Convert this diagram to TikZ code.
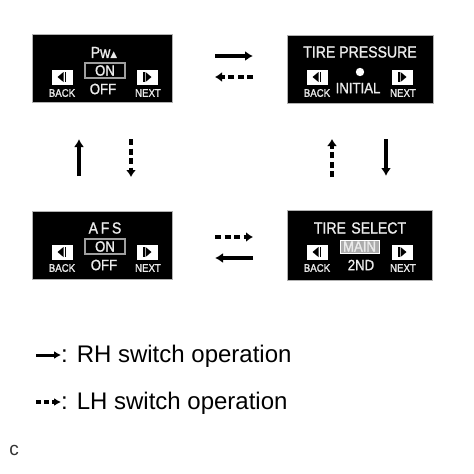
\documentclass[tikz,border=0pt]{standalone}
\usepackage{fontspec}
\setmainfont{Liberation Sans}
\newfontfamily\boxfont[FakeStretch=0.88,FakeBold=1.2]{Liberation Sans}
\newfontfamily\symfont{DejaVu Sans}
\usetikzlibrary{arrows.meta,calc}
\begin{document}
\begin{tikzpicture}[x=1pt,y=-1pt,
  screen/.style={fill=black, draw=gray!60, line width=0.6pt, minimum width=140pt, minimum height=68pt, inner sep=0pt},
  title/.style={text=white!92!black, font=\boxfont\fontsize{16}{16}\selectfont, inner sep=0pt},
  item/.style={text=white!92!black, font=\boxfont\fontsize{15}{15}\selectfont, inner sep=0pt},
  onbox/.style={item, draw=gray!75, line width=1.4pt, minimum width=40pt, minimum height=15pt},
  selbox/.style={item, fill=gray!65, draw=white, line width=1pt, minimum width=39pt, minimum height=13pt},
  icon/.style={fill=white, minimum width=21pt, minimum height=15pt, inner sep=0pt},
  iconlabel/.style={text=white!92!black, font=\boxfont\fontsize{11}{11}\selectfont, inner sep=0pt},
  solidarr/.style={line width=3.4pt, -{Latex[length=8pt,width=10pt]}},
  dasharr/.style={line width=4pt, dash pattern=on 6pt off 3.5pt, -{Latex[length=7pt,width=10pt]}},
  legend/.style={font=\fontsize{24}{24}\selectfont, inner sep=0pt, anchor=west}
]
\useasboundingbox (0,0) rectangle (474,474);
\fill[white] (0,0) rectangle (474,474);

% ---------- screens ----------
\node[screen] (b1) at (102,68.5) {};
\node[screen, minimum width=146pt] (b2) at (360,69) {};
\node[screen] (b3) at (102,245.5) {};
\node[screen, minimum width=145pt, minimum height=70pt] (b4) at (359.5,245) {};

% icons (back / next)
\newcommand{\backicon}[2]{%
  \node[icon] (#1) at #2 {};
  \fill[black] ($(#1.center)+(-4.5,0)$) -- ($(#1.center)+(1.5,-5)$) -- ($(#1.center)+(1.5,5)$) -- cycle;
  \fill[black] ($(#1.center)+(2.5,-5)$) rectangle ($(#1.center)+(4,5)$);
}
\newcommand{\nexticon}[2]{%
  \node[icon] (#1) at #2 {};
  \fill[black] ($(#1.center)+(4.5,0)$) -- ($(#1.center)+(-1.5,-5)$) -- ($(#1.center)+(-1.5,5)$) -- cycle;
  \fill[black] ($(#1.center)+(-2.5,-5)$) rectangle ($(#1.center)+(-4,5)$);
}

% Screen 1
\node[title] (t1) at (104,53) {Pw{\symfont\fontsize{9}{9}\selectfont ▲}};
\node[onbox] (on1) at (105,70.5) {ON};
\node[item] (off1) at (103,89) {OFF};
\backicon{bk1}{(62,77)}
\node[iconlabel] (bkl1) at (62,93) {BACK};
\nexticon{nx1}{(147,77)}
\node[iconlabel] (nxl1) at (148,93) {NEXT};

% Screen 2
\node[title] (t2) at (360,52) {TIRE PRESSURE};
\fill[white] (360,72) circle (4.2);
\node[item] (init) at (358,88) {INITIAL};
\backicon{bk2}{(317,77)}
\node[iconlabel] (bkl2) at (317,93) {BACK};
\nexticon{nx2}{(402,77)}
\node[iconlabel] (nxl2) at (403,93) {NEXT};

% Screen 3
\node[title] (t3) at (105,228) {A\,F\,S};
\node[onbox] (on3) at (105,246.5) {ON};
\node[item] (off3) at (104,265) {OFF};
\backicon{bk3}{(62,252)}
\node[iconlabel] (bkl3) at (62,268) {BACK};
\nexticon{nx3}{(147,252)}
\node[iconlabel] (nxl3) at (148,268) {NEXT};

% Screen 4
\node[title] (t4) at (360,228) {TIRE\,\,SELECT};
\node[selbox] (main) at (359.5,246.5) {MAIN};
\node[item] (nd) at (361,265) {2ND};
\backicon{bk4}{(317,252)}
\node[iconlabel] (bkl4) at (317,268) {BACK};
\nexticon{nx4}{(402,252)}
\node[iconlabel] (nxl4) at (403,268) {NEXT};

% ---------- connectors ----------
\coordinate (h1a) at (215,56);   \coordinate (h1b) at (253,56);
\coordinate (h2a) at (253,77);   \coordinate (h2b) at (215,77);
\coordinate (h3a) at (215,237);  \coordinate (h3b) at (253,237);
\coordinate (h4a) at (253,258);  \coordinate (h4b) at (215,258);
\coordinate (v1a) at (79,176);   \coordinate (v1b) at (79,139);
\coordinate (v2a) at (131,139);  \coordinate (v2b) at (131,177);
\coordinate (v3a) at (332,177);  \coordinate (v3b) at (332,139);
\coordinate (v4a) at (386,139);  \coordinate (v4b) at (386,176);

\draw[solidarr] (h1a) -- (h1b);
\draw[dasharr] (h2a) -- (h2b);
\draw[dasharr] (h3a) -- (h3b);
\draw[solidarr] (h4a) -- (h4b);
\draw[solidarr] (v1a) -- (v1b);
\draw[dasharr] (v2a) -- (v2b);
\draw[dasharr] (v3a) -- (v3b);
\draw[solidarr] (v4a) -- (v4b);

% ---------- legend ----------
\coordinate (l1a) at (36,355);  \coordinate (l1b) at (61,355);
\coordinate (l2a) at (36,402);  \coordinate (l2b) at (61,402);
\draw[line width=3pt, -{Latex[length=7pt,width=8pt]}] (l1a) -- (l1b);
\draw[line width=3.4pt, dash pattern=on 5pt off 3pt, -{Latex[length=7pt,width=8pt]}] (l2a) -- (l2b);
\node[legend] (rh) at (61,356) {: RH switch operation};
\node[legend] (lh) at (61,403) {: LH switch operation};
\node[font=\fontsize{19}{19}\selectfont, text=black!80, inner sep=0pt] (c) at (14,450) {c};
\end{tikzpicture}
\end{document}
